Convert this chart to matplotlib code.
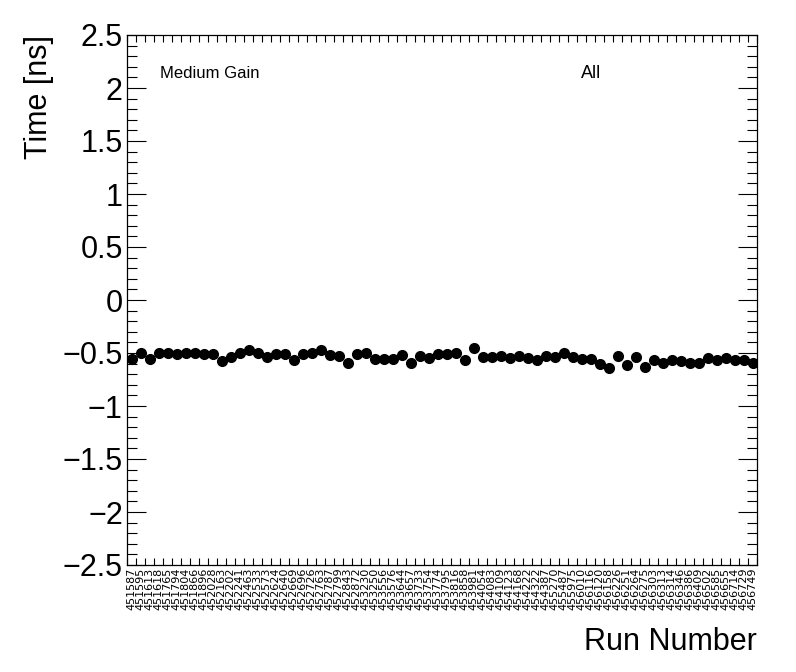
import matplotlib
matplotlib.use("Agg")
import matplotlib.pyplot as plt
import numpy as np
from matplotlib.ticker import MultipleLocator, FixedLocator, FuncFormatter

runs = ["451587", "451595", "451613", "451618", "451765", "451794", "451804", "451866",
        "451896", "452028", "452163", "452202", "452241", "452463", "452533", "452573",
        "452624", "452640", "452669", "452696", "452726", "452763", "452787", "452799",
        "452843", "452872", "453230", "453250", "453556", "453576", "453644", "453657",
        "453733", "453754", "453774", "453795", "453816", "453858", "453981", "454054",
        "454083", "454109", "454123", "454168", "454222", "454322", "454387", "455270",
        "455487", "455975", "456010", "456116", "456120", "456158", "456226", "456251",
        "456264", "456275", "456303", "456313", "456314", "456346", "456386", "456409",
        "456502", "456585", "456655", "456714", "456729", "456749"]

time_ns = [-0.56, -0.50, -0.56, -0.50, -0.50, -0.51, -0.50, -0.50, -0.51, -0.51,
           -0.58, -0.535, -0.50, -0.47, -0.50, -0.535, -0.51, -0.51, -0.566, -0.51,
           -0.50, -0.47, -0.52, -0.53, -0.59, -0.51, -0.50, -0.56, -0.56, -0.56,
           -0.52, -0.59, -0.53, -0.55, -0.51, -0.51, -0.50, -0.566, -0.456, -0.54,
           -0.54, -0.53, -0.55, -0.53, -0.55, -0.57, -0.53, -0.535, -0.497, -0.54,
           -0.56, -0.56, -0.60, -0.645, -0.53, -0.61, -0.54, -0.63, -0.566, -0.59,
           -0.57, -0.58, -0.59, -0.59, -0.55, -0.57, -0.55, -0.57, -0.57, -0.59]
time_err = [0.01] * len(time_ns)

plt.rcParams['font.family'] = ['Liberation Sans', 'DejaVu Sans']

fig = plt.figure(figsize=(7.96, 6.72), dpi=100)
ax = fig.add_axes([127/796, 1-565/672, 630/796, 530/672])

x = np.arange(len(runs))
ax.errorbar(x, time_ns, yerr=time_err, fmt='o', color='black', ms=7.0,
            elinewidth=1, capsize=0, zorder=3)

ax.set_xlim(-0.5, len(runs) - 0.5)
ax.set_ylim(-2.5, 2.5)

ax.xaxis.set_major_locator(FixedLocator(x))
ax.set_xticklabels(runs, rotation=90, fontsize=8, family='DejaVu Sans')
ax.xaxis.set_minor_locator(FixedLocator(np.arange(len(runs) + 1) - 0.5))
ax.tick_params(axis='x', which='major', length=0, pad=2)
ax.tick_params(axis='x', which='minor', direction='in', length=5, top=True, bottom=True, width=0.8)

ax.yaxis.set_major_locator(MultipleLocator(0.5))
ax.yaxis.set_minor_locator(MultipleLocator(0.1))
ax.yaxis.set_major_formatter(FuncFormatter(lambda v, p: ("%g" % v).replace("-", "\u2212") if abs(v) > 1e-9 else "0"))
ax.tick_params(axis='y', which='major', direction='in', length=14, left=True, right=True,
               labelsize=22, pad=3, width=0.8)
ax.tick_params(axis='y', which='minor', direction='in', length=7, left=True, right=True, width=0.8)

for s in ax.spines.values():
    s.set_linewidth(0.9)

ax.set_ylabel("Time [ns]", fontsize=22, loc='top', labelpad=6)
ax.set_xlabel("Run Number", fontsize=22, loc='right', labelpad=12)

ax.text(160/796, 1-73/672, "Medium Gain", transform=fig.transFigure, fontsize=12,
        ha='left', va='center')
ax.text(581/796, 1-73/672, "All", transform=fig.transFigure, fontsize=13,
        ha='left', va='center')

fig.savefig("out.png", dpi=100)
